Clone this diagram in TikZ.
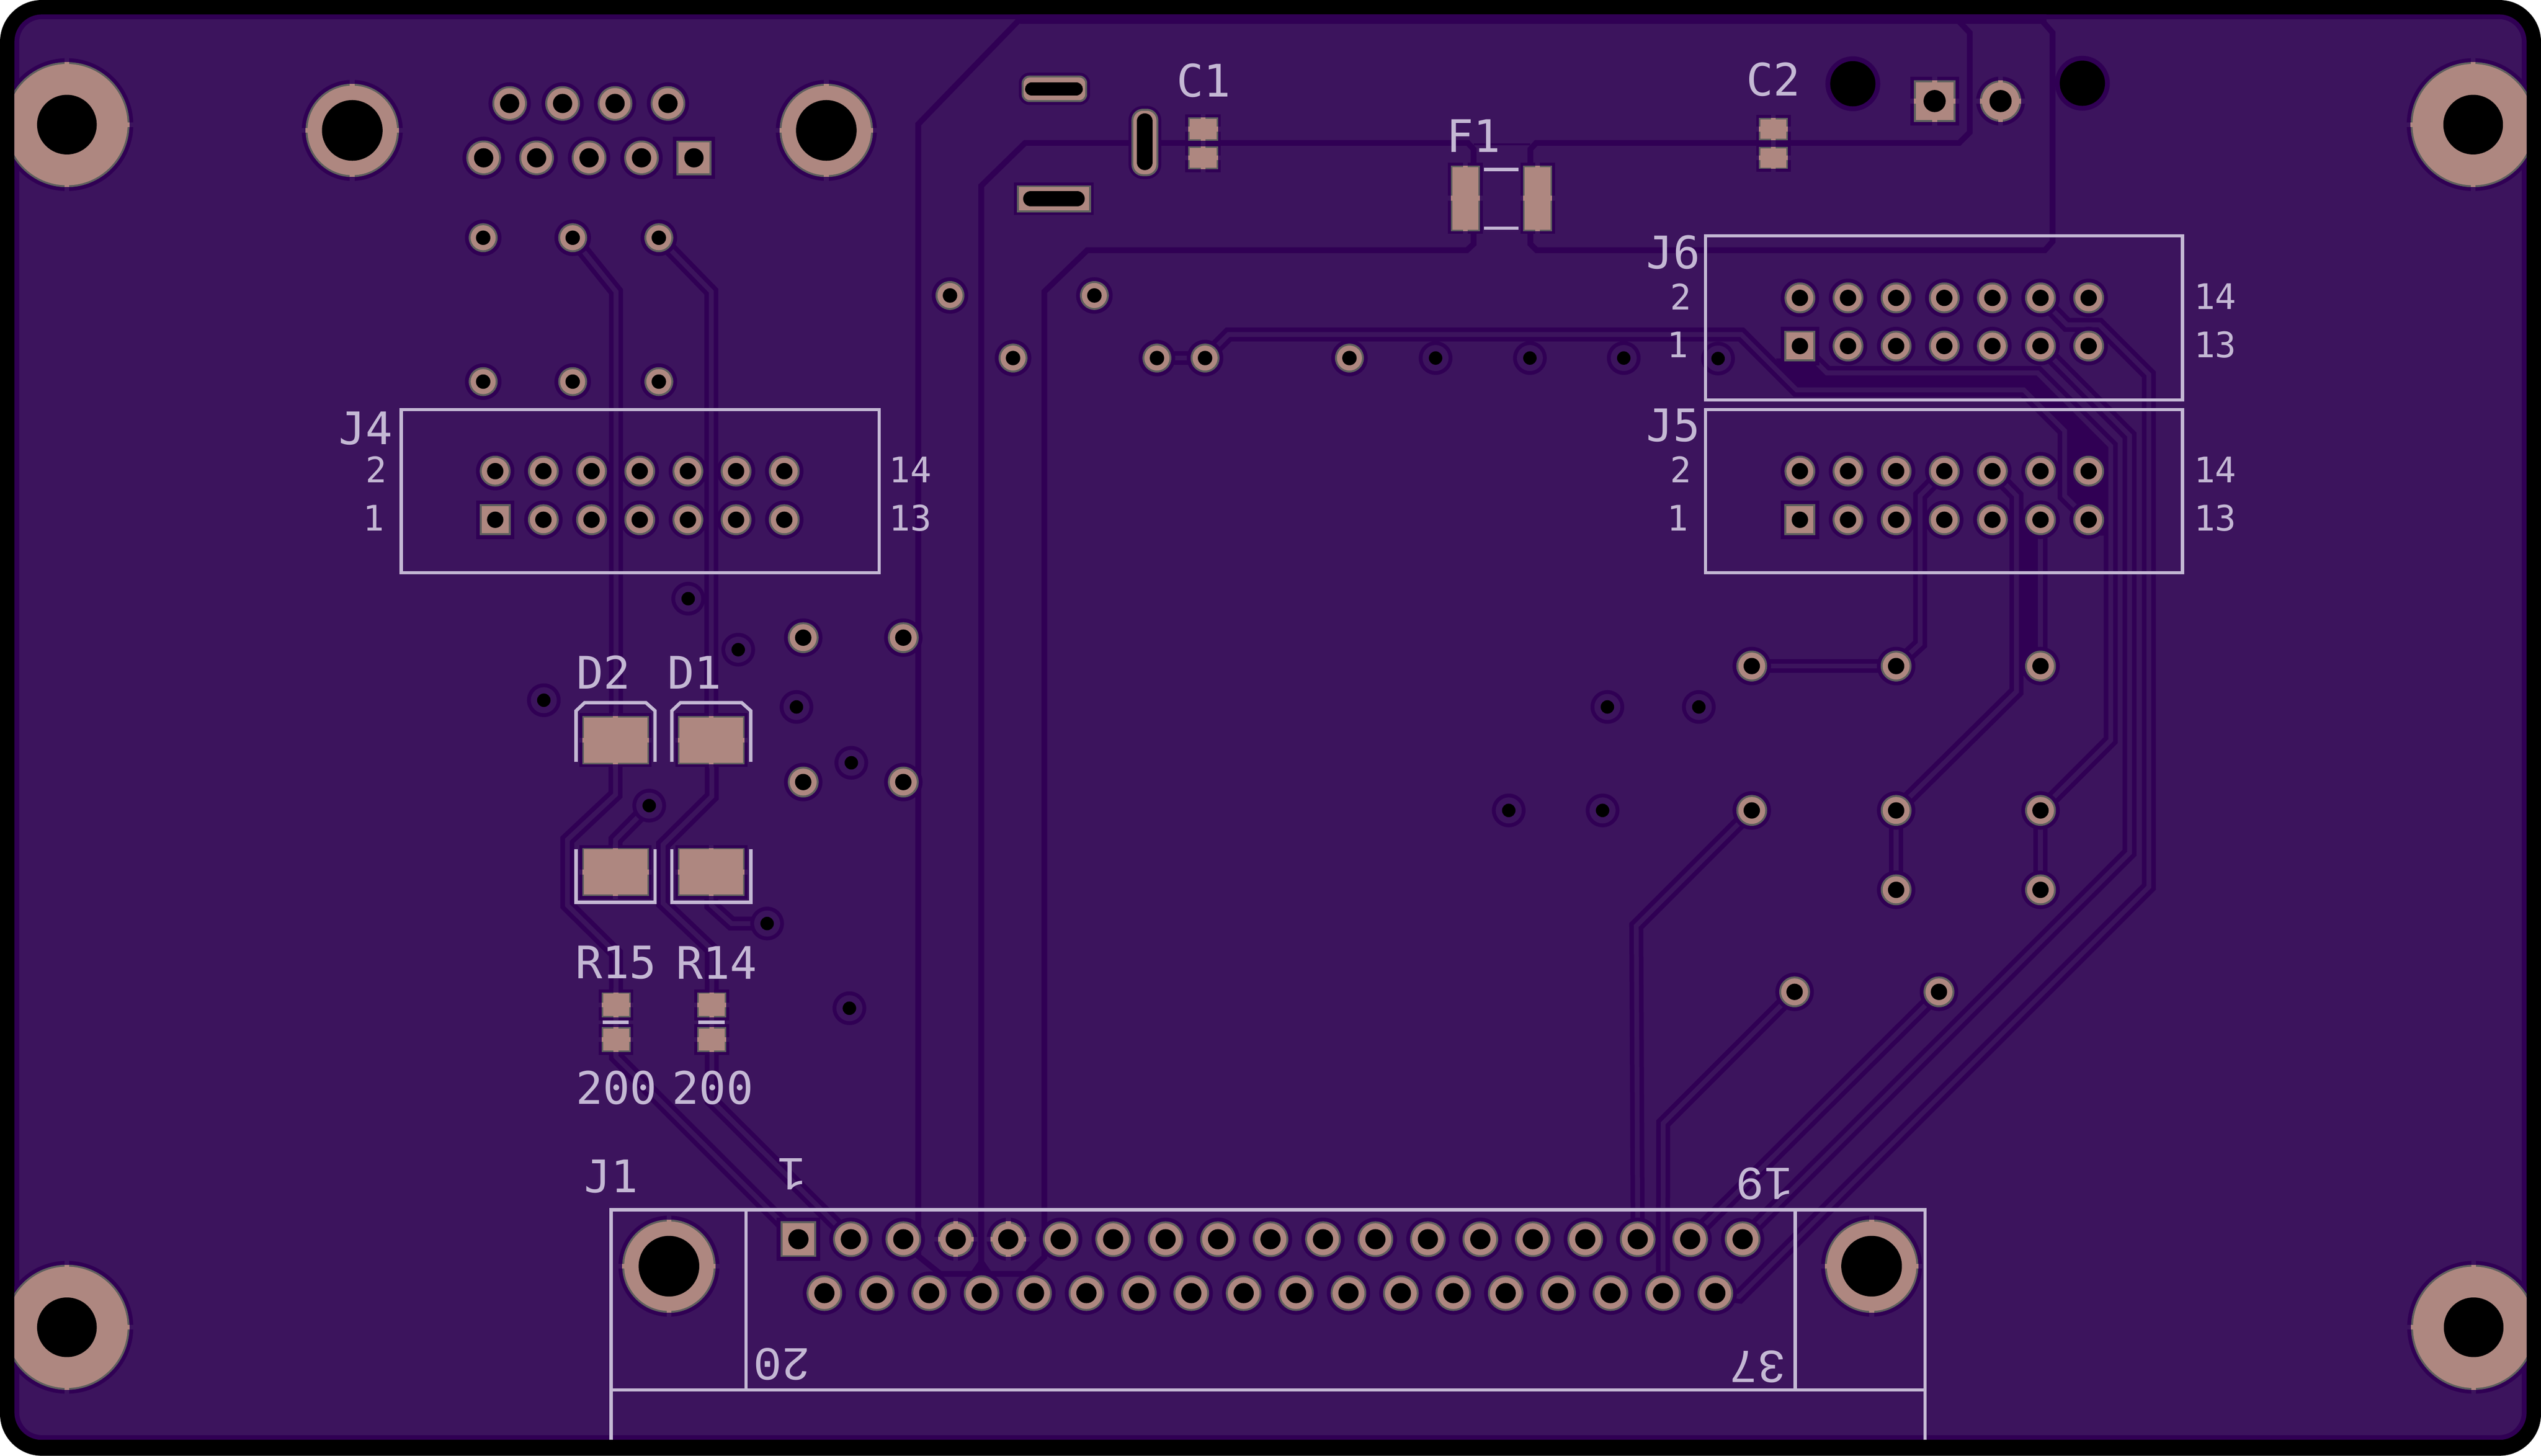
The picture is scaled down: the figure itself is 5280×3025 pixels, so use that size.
\documentclass[tikz,border=0pt]{standalone}
\usepackage{fontspec}
\newfontfamily\silkfont{DejaVu Sans Mono}
\newfontfamily\thinfont{Liberation Mono}
\definecolor{maskfill}{RGB}{60,20,93}
\definecolor{maskedge}{RGB}{48,0,84}
\definecolor{padcu}{RGB}{174,135,128}
\definecolor{padrim}{RGB}{95,96,94}
\definecolor{silk}{RGB}{196,184,212}
\newcommand{\silkbig}{\silkfont\fontsize{26.5}{30}\selectfont}
\newcommand{\silkpin}{\silkfont\fontsize{20.8}{24}\selectfont}
\newcommand{\silkthin}{\thinfont\fontsize{28}{32}\selectfont}
\tikzset{
    silkline/.style={draw=silk, line width=0.07cm},
    bigtext/.style={text=silk, inner sep=0pt, font=\silkbig},
    pintext/.style={text=silk, inner sep=0pt, font=\silkpin},
    flipped/.style={text=silk, inner sep=0pt, font=\silkthin, rotate=180},
    pourline/.style={draw=maskedge, line width=0.12cm},
    thermalgap/.style={draw=maskfill, line width=0.1cm},
    thermalcu/.style={draw=padcu, line width=0.1cm}
}
% round pad: centre, pad radius, hole radius
\newcommand{\rpad}[3]{
    \fill[maskedge] (#1) circle ({#2+8});
    \fill[padrim] (#1) circle (#2);
    \fill[padcu] (#1) circle ({#2-4});
    \fill[black] (#1) circle (#3);
}
% square pad: centre, half side, hole radius
\newcommand{\qpad}[3]{
    \fill[maskedge] (#1) +({-#2-8},{-#2-8}) rectangle +({#2+8},{#2+8});
    \fill[padrim] (#1) +({-#2},{-#2}) rectangle +({#2},{#2});
    \fill[padcu] (#1) +({-#2+4},{-#2+4}) rectangle +({#2-4},{#2-4});
    \fill[black] (#1) circle (#3);
}
% smd pad: centre, half width, half height
\newcommand{\spad}[3]{
    \fill[maskedge] (#1) +({-#2-6},{-#3-6}) rectangle +({#2+6},{#3+6});
    \fill[padrim] (#1) +({-#2},{-#3}) rectangle +({#2},{#3});
    \fill[padcu] (#1) +({-#2+3},{-#3+3}) rectangle +({#2-3},{#3-3});
}
% ticks on the four sides of a pad
\newcommand{\ticks}[3]{
    \foreach \dx/\dy in {1/0,-1/0,0/1,0/-1} {
        \draw[thermalgap] (#1) +({\dx*(#2)},{\dy*(#3)}) -- +({\dx*(#2+9)},{\dy*(#3+9)});
        \draw[thermalcu] (#1) +({\dx*(#2-5)},{\dy*(#3-5)}) -- +({\dx*(#2)},{\dy*(#3)});
    }
}
\newcommand{\via}[1]{
    \fill[maskedge] (#1) circle (35);
    \fill[maskfill] (#1) circle (27);
    \fill[black] (#1) circle (14);
}
% slot pad: corner, corner, radius, slot end, slot end, slot width
\newcommand{\slotpad}[6]{
    \draw[maskedge, line width=0.16cm, rounded corners=#3cm] (#1) rectangle (#2);
    \draw[padrim, fill=padcu, line width=0.04cm, rounded corners=#3cm] (#1) rectangle (#2);
    \draw[black, line width=#6cm, line cap=round] (#4) -- (#5);
}
% all copper routes, drawn twice: rim first, core after
\newcommand{\routes}{
    \draw (sw1) -- (1280,606) -- (1280,1538);
    \draw (sw2) -- (1478,606) -- (1478,1538);
    \draw (1279,1538) -- (1279,1651) -- (1179,1745) -- (1179,1881) -- (1280,1981) -- (1280,2088);
    \draw (1279,1812) -- (1279,1745) -- (1349,1674);
    \draw (1479,1538) -- (1479,1655) -- (1378,1755) -- (1378,1877) -- (1479,1973) -- (1479,2088);
    \draw (1478,1812) -- (1478,1881) -- (1520,1919) -- (1594,1919);
    \draw (1280,2160) -- (1280,2196) -- (j1t1);
    \draw (1479,2160) -- (1479,2287) -- (j1t2);
    \draw (pd) -- (3400,1924) -- (j1t17);
    \draw (pi) -- (3456,2334) -- (j1b17);
    \draw (pj) -- (j1t18);
    \draw (j6b6) -- (4425,905) -- (4425,1772) -- (j1t19);
    \draw (j6t6) -- (4295,675) -- (4362,675) -- (4465,778) -- (4465,1843) -- (3614,2694) -- (j1b18);
    \draw (j6b1) -- (3796,775) -- (4234,775) -- (4386,927) -- (4386,1538) -- (pf);
    \draw (2504,744) -- (2553,695) -- (3618,695) -- (3733,810) -- (4205,810) -- (4290,895) -- (4290,1030) -- (j5b7);
    \draw (2404,744) -- (2504,744);
    \draw (j5t4) -- (3990,1030) -- (3990,1338) -- (pb);
    \draw (j5t5) -- (4190,1030) -- (4190,1437) -- (pe);
    \draw (pa) -- (pb);
    \draw (pe) -- (pg);
    \draw (pf) -- (ph);
    \draw (j5b6) -- (pc);
}

\begin{document}
\begin{tikzpicture}[x=0.01cm, y=-0.01cm]
    \useasboundingbox (0,0) rectangle (5280,3025);
    \fill[black, rounded corners=0.87cm] (0,0) rectangle (5280,3025);
    \begin{scope}
    \clip[rounded corners=0.57cm] (30,30) rectangle (5250,2992);
    \fill[maskedge] (30,30) rectangle (5250,2992);
    \fill[maskfill, rounded corners=0.47cm] (40,40) rectangle (5240,2982);
    \fill[maskedge] (2119,30) rectangle (4252,50);

    % pin positions
    \foreach \i in {1,...,19} {
        \coordinate (j1t\i) at ({1659+109*(\i-1)},2575);
    }
    \foreach \i in {1,...,18} {
        \coordinate (j1b\i) at ({1713+108.9*(\i-1)},2687);
    }
    \foreach \i in {1,...,7} {
        \coordinate (j4t\i) at ({1029+100.1*(\i-1)},979);
        \coordinate (j4b\i) at ({1029+100.1*(\i-1)},1080);
        \coordinate (j5t\i) at ({3740+100*(\i-1)},979);
        \coordinate (j5b\i) at ({3740+100*(\i-1)},1080);
        \coordinate (j6t\i) at ({3740+100*(\i-1)},619);
        \coordinate (j6b\i) at ({3740+100*(\i-1)},719);
    }
    \coordinate (sw1) at (1190,494);
    \coordinate (sw2) at (1369,494);
    \coordinate (pa) at (3640,1384);
    \coordinate (pb) at (3940,1384);
    \coordinate (pc) at (4240,1384);
    \coordinate (pd) at (3640,1684);
    \coordinate (pe) at (3940,1684);
    \coordinate (pf) at (4240,1684);
    \coordinate (pg) at (3940,1849);
    \coordinate (ph) at (4240,1849);
    \coordinate (pi) at (3729,2061);
    \coordinate (pj) at (4029,2061);

    % pour edges
    \draw[pourline] (2119,40) -- (1908,258) -- (1908,2610) -- (1954,2647) -- (2133,2647) -- (2170,2612)
        -- (2170,606) -- (2259,520) -- (3048,520) -- (3062,507) -- (3062,470);
    \draw[pourline] (2039,2630) -- (2039,386) -- (2130,297) -- (3050,297) -- (3062,310) -- (3062,350);
    \draw[pourline] (3180,350) -- (3180,310) -- (3192,297) -- (4071,297) -- (4093,275) -- (4093,68) -- (4071,45);
    \draw[pourline] (3180,470) -- (3180,507) -- (3193,520) -- (4249,520) -- (4265,502) -- (4265,68) -- (4245,45);
    \draw[maskedge, line width=0.04cm] (3062,300) -- (3180,300);
    \fill[maskedge] (2012,2651) -- (2039,2612) -- (2066,2651) -- cycle;

    % dark slivers between routes
    \fill[maskedge] (3690,745) -- (3770,745) -- (3800,775) -- (4234,775) -- (4386,927) -- (4386,1113)
        -- (4340,1113) -- (4340,1080) -- (4290,1030) -- (4290,895) -- (4205,810) -- (3733,810) -- cycle;
    \fill[maskedge] (4190,1060) rectangle (4240,1405);

    % routes
    \begin{scope}[draw=maskedge, line width=0.29cm]
        \routes
    \end{scope}
    \begin{scope}[draw=maskfill, line width=0.1cm]
        \routes
    \end{scope}

    % corner and mounting pads
    \foreach \c in {{139,259},{5139,259},{139,2758},{5140,2758}} {
        \rpad{\c}{130}{62}
        \ticks{\c}{130}{130}
    }
    \foreach \c in {{732,271},{1717,271},{1390,2631},{3889,2631}} {
        \rpad{\c}{97}{63}
        \ticks{\c}{97}{97}
    }

    % sub-D connector
    \foreach \x in {1059,1169,1278,1388} {
        \rpad{\x,215}{36}{20}
    }
    \foreach \x in {1005,1115,1224,1333} {
        \rpad{\x,328}{36}{20}
    }
    \qpad{1442,328}{36}{20}

    % loose pads
    \foreach \c in {{1004,494},{1190,494},{1369,494},{1004,793},{1190,793},{1369,793}} {
        \rpad{\c}{30}{15}
    }
    \foreach \c in {{1974,614},{2274,614},{2105,744},{2404,744},{2504,744},{2804,744}} {
        \rpad{\c}{30}{15}
    }
    \foreach \c in {{1669,1325},{1877,1325},{1669,1625},{1877,1625}} {
        \rpad{\c}{32}{17}
    }
    \foreach \c in {pa,pb,pc,pd,pe,pf,pg,ph,pi,pj} {
        \rpad{\c}{32}{17}
    }

    % vias
    \foreach \c in {{2983,744},{3179,744},{3374,744},{3570,745},{1430,1244},{1534,1350},{1655,1469},{1130,1455},
        {1769,1585},{1349,1674},{1594,1919},{1765,2095},{3340,1469},{3530,1469},{3135,1684},{3330,1684}} {
        \via{\c}
    }

    % headers
    \qpad{j4b1}{32}{17}
    \qpad{j5b1}{32}{17}
    \qpad{j6b1}{32}{17}
    \foreach \i in {1,...,7} {
        \rpad{j4t\i}{32}{17}
        \rpad{j5t\i}{32}{17}
        \rpad{j6t\i}{32}{17}
    }
    \foreach \i in {2,...,7} {
        \rpad{j4b\i}{32}{17}
        \rpad{j5b\i}{32}{17}
        \rpad{j6b\i}{32}{17}
    }

    % J1 pins
    \qpad{j1t1}{37}{21}
    \foreach \i in {2,...,19} {
        \rpad{j1t\i}{37}{21}
    }
    \foreach \i in {1,...,18} {
        \rpad{j1b\i}{37}{21}
    }
    \ticks{j1t4}{37}{37}
    \ticks{j1t5}{37}{37}

    % power header and its drill holes
    \qpad{4020,210}{43}{23}
    \ticks{4020,210}{43}{43}
    \rpad{4157,210}{43}{23}
    \ticks{4157,210}{43}{43}
    \foreach \c in {{3850,174},{4327,173}} {
        \fill[maskedge] (\c) circle (57);
        \fill[black] (\c) circle (47);
    }

    % slotted pads
    \slotpad{2125,159}{2257,210}{0.14}{2144,185}{2236,185}{0.28}
    \slotpad{2115,387}{2265,439}{0}{2142,413}{2238,413}{0.32}
    \slotpad{2353,228}{2405,364}{0.22}{2379,252}{2379,337}{0.33}

    % smd pads
    \foreach \c/\w/\h in {{2500,268}/31/24,{2500,328}/31/24,{3685,268}/30/23,{3685,328}/30/23,
        {3045,412}/30/68,{3195,412}/30/68,{1279,1538}/69/50,{1478,1538}/69/50,{1279,1812}/69/50,{1478,1812}/69/50,
        {1280,2088}/30/26,{1280,2160}/30/26,{1479,2088}/30/26,{1479,2160}/30/26} {
        \spad{\c}{\w}{\h}
        \ticks{\c}{\w}{\h}
    }

    % silk outlines
    \draw[silkline] (834,851) rectangle (1827,1190);
    \draw[silkline] (3544,490) rectangle (4535,831);
    \draw[silkline] (3544,851) rectangle (4535,1190);
    \draw[silkline] (1270,2992) -- (1270,2514) -- (4000,2514) -- (4000,2992);
    \draw[silkline] (1270,2888) -- (4000,2888);
    \draw[silkline] (1550,2514) -- (1550,2888);
    \draw[silkline] (3730,2514) -- (3730,2888);
    \draw[silkline] (3084,352) -- (3155,352);
    \draw[silkline] (3084,474) -- (3155,474);
    \draw[silkline] (1197,1583) -- (1197,1477) -- (1215,1460) -- (1342,1460) -- (1361,1477) -- (1361,1583);
    \draw[silkline] (1396,1583) -- (1396,1477) -- (1414,1460) -- (1541,1460) -- (1560,1477) -- (1560,1583);
    \draw[silkline] (1197,1765) -- (1197,1875) -- (1361,1875) -- (1361,1765);
    \draw[silkline] (1396,1765) -- (1396,1875) -- (1560,1875) -- (1560,1765);
    \draw[silkline] (1252,2124) -- (1306,2124);
    \draw[silkline] (1451,2124) -- (1506,2124);
    \end{scope}

    % silk text
    \node[bigtext] (lblc1) at (2501,167) {C1};
    \node[bigtext] (lblc2) at (3685,165) {C2};
    \node[bigtext] (lblf1) at (3062,282) {F1};
    \node[bigtext] (lblj4) at (760,890) {J4};
    \node[bigtext] (lblj5) at (3477,884) {J5};
    \node[bigtext] (lblj6) at (3477,524) {J6};
    \node[bigtext] (lblj1) at (1270,2445) {J1};
    \node[bigtext] (lbld2) at (1254,1397) {D2};
    \node[bigtext] (lbld1) at (1443,1397) {D1};
    \node[bigtext] (lblr15) at (1280,2000) {R15};
    \node[bigtext] (lblr14) at (1489,2000) {R14};
    \node[bigtext] (lblvala) at (1281,2260) {200};
    \node[bigtext] (lblvalb) at (1481,2260) {200};
    \node[pintext] (j4two) at (782,976) {2};
    \node[pintext] (j4one) at (776,1076) {1};
    \node[pintext] (j4hi) at (1892,976) {14};
    \node[pintext] (j4lo) at (1892,1076) {13};
    \node[pintext] (j5two) at (3492,976) {2};
    \node[pintext] (j5one) at (3486,1076) {1};
    \node[pintext] (j5hi) at (4603,976) {14};
    \node[pintext] (j5lo) at (4603,1076) {13};
    \node[pintext] (j6two) at (3492,616) {2};
    \node[pintext] (j6one) at (3486,716) {1};
    \node[pintext] (j6hi) at (4603,616) {14};
    \node[pintext] (j6lo) at (4603,716) {13};
    \node[flipped] (j1pina) at (1645,2440) {1};
    \node[flipped] (j1pinb) at (3666,2460) {19};
    \node[flipped] (j1pinc) at (1625,2835) {20};
    \node[flipped] (j1pind) at (3652,2840) {37};
\end{tikzpicture}
\end{document}
